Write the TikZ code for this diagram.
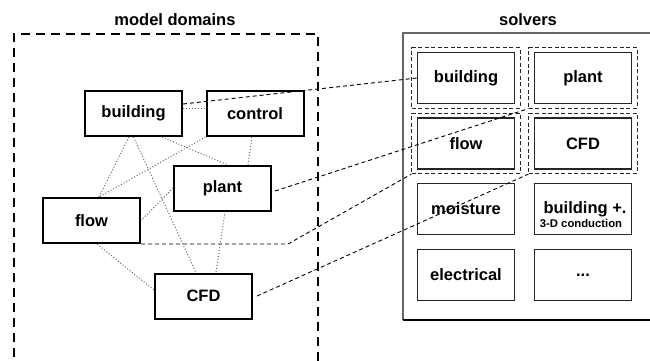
\documentclass[tikz,border=0pt]{standalone}
\usepackage{fontspec}
\setmainfont{Liberation Sans}
\usetikzlibrary{fit}
\begin{document}
\begin{tikzpicture}[x=1pt,y=-1pt,
  every node/.style={font=\fontsize{16.5}{19}\selectfont\bfseries},
  dom/.style={draw=black, line width=2pt, minimum width=97pt, minimum height=45pt, inner sep=0pt},
  sol/.style={draw=black!85, line width=1.2pt, minimum width=97pt, minimum height=51pt, inner sep=0pt},
  grp/.style={draw=black!85, line width=1pt, dash pattern=on 4pt off 2.5pt, inner xsep=5pt, inner ysep=4pt},
  link/.style={line width=0.9pt, dash pattern=on 4pt off 3pt},
  rel/.style={draw=black!60, line width=1pt, dash pattern=on 1pt off 2pt},
  frame/.style={line width=2pt, dash pattern=on 9pt off 6pt},
  small/.style={font=\fontsize{11.3}{13}\selectfont\bfseries}
]
\useasboundingbox (0,0) rectangle (650,360);

% titles
\node[anchor=base] (tdom) at (175,25) {model domains};
\node[anchor=base] (tsol) at (528,25) {solvers};

% model domain frame
\draw[frame] (14,372) -- (14,34) -- (318,34) -- (318,372);

% solvers frame
\draw[draw=black!60, line width=1.5pt] (665,33) -- (403,33) -- (403,320);
\draw[draw=black, line width=1.5pt] (403,320) -- (665,320);

% model domain nodes
\node[dom] (building) at (133.5,113.5) {building};
\node[dom] (control) at (255,113.5) {control};
\node[dom] (plant) at (222.5,188) {plant};
\node[dom] (flow) at (91.5,220.5) {flow};
\node[dom] (cfd) at (203.5,296) {CFD};

% solver nodes
\node[sol] (sb) at (466,78) {building};
\node[sol] (sp) at (583,78) {plant};
\node[sol] (sf) at (466,143.5) {flow};
\node[sol] (sc) at (583,143.5) {CFD};
\node[sol] (sm) at (466,209) {moisture};
\node[sol] (sbp) at (583,209) {};
\node[anchor=base] (sbpa) at ([xshift=2pt,yshift=-4pt]sbp.center) {building +.};
\node[anchor=base, small] (sbpb) at ([xshift=-2pt,yshift=-18pt]sbp.center) {3-D conduction};
\node[sol] (se) at (466,275) {electrical};
\node[sol] (sd) at (583,275) {...};

% groups
\node[grp, fit=(sb)] (gb) {};
\node[grp, fit=(sp)] (gp) {};
\node[grp, fit=(sf)] (gf) {};
\node[grp, fit=(sc)] (gc) {};

% dotted relations
\draw[rel] ([yshift=5.5pt]building.east) -- ([yshift=5.5pt]control.west);
\draw[rel] ([xshift=-4.5pt]building.south) -- ([xshift=7.5pt]flow.north);
\draw[rel] (building.south) -- ([xshift=-7.5pt]cfd.north);
\draw[rel] ([xshift=28.5pt]building.south) -- ([xshift=4.5pt]plant.north);
\draw[rel] (control.south west) -- ([xshift=7.5pt]flow.north);
\draw[rel] ([xshift=-3pt]control.south) -- ([xshift=25.5pt]plant.north);
\draw[rel] (plant.west) -- (flow.east);
\draw[rel] ([xshift=2.5pt]plant.south) -- ([xshift=12.5pt]cfd.north);
\draw[rel] ([xshift=5.5pt]flow.south) -- ([yshift=6pt]cfd.west);

% dashed links
\draw[link] ([yshift=9.5pt]building.east) -- (sb.west);
\draw[link] ([xshift=3pt,yshift=-3pt]plant.east) -- (gp.south west);
\coordinate (fbend) at (288,244);
\draw[link] (flow.south east) -- (fbend) -- (gf.south west);
\draw[link] ([xshift=4pt]cfd.east) -- (gc.south west);
\end{tikzpicture}
\end{document}
